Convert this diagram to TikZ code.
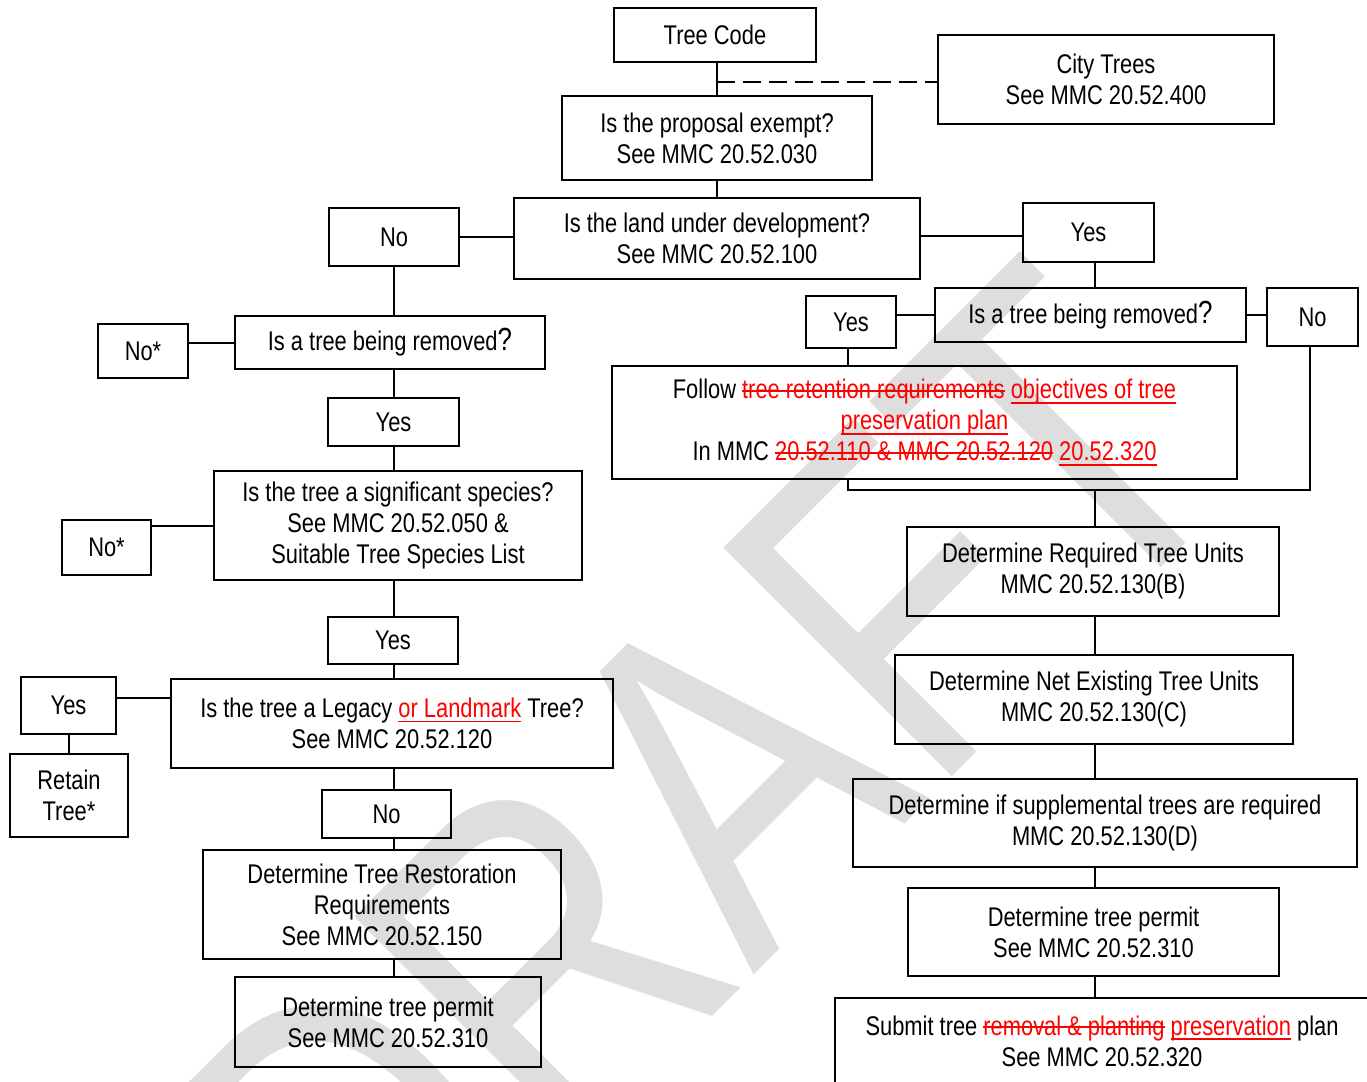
\documentclass[tikz,border=0pt]{standalone}
\usepackage{fontspec}
\setmainfont{Liberation Sans}[FakeStretch=0.81]
\newfontfamily\wmfont{Liberation Sans}[FakeStretch=0.8]
\definecolor{wmgray}{RGB}{222,222,222}
\definecolor{edred}{RGB}{255,0,0}
\newcommand\mainsz{\fontsize{13.5pt}{15.5pt}\selectfont}
\newcommand\rdel[1]{{\color{edred}\setbox0\hbox{#1}\rlap{\vrule height 4.4pt depth -3.6pt width \wd0}\box0}}
\newcommand\rins[1]{{\color{edred}\setbox0\hbox{#1}\rlap{\vrule height -1.6pt depth 2.4pt width \wd0}\box0}}
\newcommand\bigq{{\fontsize{16pt}{15.5pt}\selectfont ?}}
\newcommand\bx[6]{\node[box, minimum width={(#4-#2)*0.5pt}, minimum height={(#5-#3)*0.5pt}] (#1) at ({(#2+#4)/2},{(#3+#5)/2}) {#6};}
\tikzset{
  box/.style={draw, line width=1pt, inner sep=0pt, outer sep=0pt, align=center, font=\mainsz},
  conn/.style={line width=1pt},
}
\begin{document}
\begin{tikzpicture}[x=0.5pt,y=-0.5pt]
\useasboundingbox (0,0) rectangle (1367,1082);
\clip (0,0) rectangle (1367,1082);
% watermark
\node[text=wmgray, rotate=45, anchor=base west, inner sep=0pt, font=\wmfont\fontsize{235pt}{235pt}\selectfont] (wm) at (369,1360) {DRAFT};
% boxes
\bx{tc}{614}{8}{816}{62}{Tree Code}
\bx{ct}{938}{35}{1274}{124}{City Trees\\See MMC 20.52.400}
\bx{pe}{562}{96}{872}{180}{Is the proposal exempt?\\See MMC 20.52.030}
\bx{ld}{514}{198}{920}{279}{Is the land under development?\\See MMC 20.52.100}
\bx{no1}{329}{208}{459}{266}{No}
\bx{yes1}{1023}{203}{1154}{262}{Yes}
\bx{rr}{935}{288}{1246}{342}{Is a tree being removed\bigq}
\bx{yes2}{806}{296}{896}{348}{Yes}
\bx{no2}{1267}{288}{1358}{346}{No}
\bx{fol}{612}{366}{1237}{479}{Follow \rdel{tree retention requirements} \rins{objectives of tree}\\\rins{preservation plan}\\In MMC \rdel{20.52.110 \& MMC 20.52.120} \rins{20.52.320}}
\bx{req}{907}{527}{1279}{616}{Determine Required Tree Units\\MMC 20.52.130(B)}
\bx{net}{895}{655}{1293}{744}{Determine Net Existing Tree Units\\MMC 20.52.130(C)}
\bx{sup}{853}{779}{1357}{867}{Determine if supplemental trees are required\\MMC 20.52.130(D)}
\bx{prr}{908}{888}{1279}{976}{Determine tree permit\\See MMC 20.52.310}
\bx{sub}{835}{998}{1369}{1084}{Submit tree \rdel{removal \& planting} \rins{preservation} plan\\See MMC 20.52.320}
\bx{lr}{235}{316}{545}{369}{Is a tree being removed\bigq}
\bx{ns1}{98}{324}{188}{378}{No*}
\bx{yes3}{328}{398}{459}{446}{Yes}
\bx{sig}{214}{471}{582}{580}{Is the tree a significant species?\\See MMC 20.52.050 \&\\Suitable Tree Species List}
\bx{ns2}{62}{520}{151}{575}{No*}
\bx{yes4}{328}{617}{458}{664}{Yes}
\bx{leg}{171}{679}{613}{768}{Is the tree a Legacy \rins{or Landmark} Tree?\\See MMC 20.52.120}
\bx{yes5}{21}{677}{116}{734}{Yes}
\bx{ret}{10}{754}{128}{837}{Retain\\Tree*}
\bx{no3}{322}{790}{451}{838}{No}
\bx{res}{203}{850}{561}{959}{Determine Tree Restoration\\Requirements\\See MMC 20.52.150}
\bx{prl}{235}{977}{541}{1067}{Determine tree permit\\See MMC 20.52.310}
% helper coordinates
\coordinate (dj) at (717,82);
\coordinate (mj) at (1095,490);
\coordinate (rx) at (1095,0);
\coordinate (lx) at (394,0);
\coordinate (yj) at (116,698);
% connectors top
\draw[conn] (pe.north) -- (pe.north |- tc.south);
\draw[conn, dash pattern=on 9pt off 4pt] (dj) -- (dj -| ct.west);
\draw[conn] (ld.north) -- (ld.north |- pe.south);
\draw[conn] (no1.east) -- (no1.east -| ld.west);
\draw[conn] (ld.east |- 0,236) -- (yes1.west |- 0,236);
% right branch
\draw[conn] (rx |- yes1.south) -- (rx |- rr.north);
\draw[conn] (rr.west) -- (rr.west -| yes2.east);
\draw[conn] (rr.east) -- (rr.east -| no2.west);
\draw[conn] (848,0 |- yes2.south) -- (848,0 |- fol.north);
\draw[conn] (848,0 |- fol.south) -- (848,0 |- mj) -- (mj -| 1310,0) -- (1310,0 |- no2.south);
\draw[conn] (mj) -- (mj |- req.north);
\draw[conn] (rx |- req.south) -- (rx |- net.north);
\draw[conn] (rx |- net.south) -- (rx |- sup.north);
\draw[conn] (rx |- sup.south) -- (rx |- prr.north);
\draw[conn] (rx |- prr.south) -- (rx |- sub.north);
% left branch
\draw[conn] (lx |- no1.south) -- (lx |- lr.north);
\draw[conn] (lr.west) -- (lr.west -| ns1.east);
\draw[conn] (lx |- lr.south) -- (lx |- yes3.north);
\draw[conn] (lx |- yes3.south) -- (lx |- sig.north);
\draw[conn] (sig.west) -- (sig.west -| ns2.east);
\draw[conn] (lx |- sig.south) -- (lx |- yes4.north);
\draw[conn] (lx |- yes4.south) -- (lx |- leg.north);
\draw[conn] (yj) -- (yj -| leg.west);
\draw[conn] (69,0 |- yes5.south) -- (69,0 |- ret.north);
\draw[conn] (lx |- leg.south) -- (lx |- no3.north);
\draw[conn] (lx |- no3.south) -- (lx |- res.north);
\draw[conn] (lx |- res.south) -- (lx |- prl.north);
\end{tikzpicture}
\end{document}
